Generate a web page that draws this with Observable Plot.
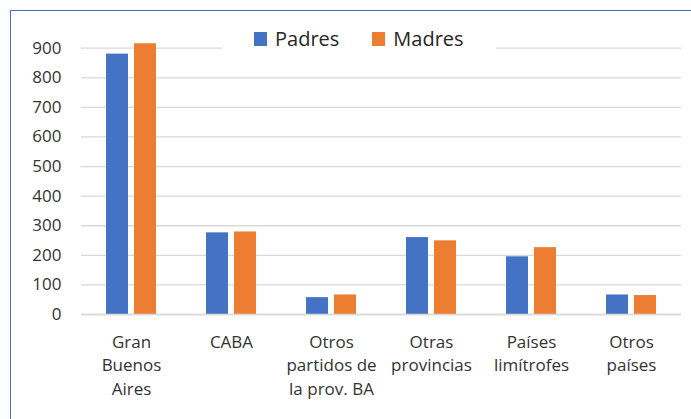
<!DOCTYPE html>
<html>
<head>
<meta charset="utf-8">
<script src="https://cdn.jsdelivr.net/npm/d3@7"></script>
<script src="https://cdn.jsdelivr.net/npm/@observablehq/plot@0.6"></script>
<style>
  html, body { margin: 0; padding: 0; background: #fff; overflow: hidden; }
  #wrap { position: relative; width: 691px; height: 419px; overflow: hidden; font-family: "Open Sans", sans-serif; }
  #frame { position: absolute; left: 10px; top: 10px; width: 900px; height: 600px; border-left: 1.5px solid #4472C4; border-top: 1.5px solid #4472C4; pointer-events: none; }
  #legend { position: absolute; left: 222px; top: 27px; width: 274px; height: 24px; background: #fff; display: flex; align-items: center; font-size: 20px; line-height: 24px; color: #262626; padding-left: 32px; box-sizing: border-box; }
  #legend .item { display: flex; align-items: center; }
  #legend .item + .item { margin-left: 33px; }
  #legend .sw { width: 13px; height: 14px; margin-right: 8px; display: inline-block; }
</style>
</head>
<body>
<div id="wrap"><div id="chart"></div><div id="legend"></div><div id="frame"></div></div>
<script>
const categories = ["Gran\nBuenos\nAires", "CABA", "Otros\npartidos de\nla prov. BA", "Otras\nprovincias", "Países\nlimítrofes", "Otros\npaíses"];
const series = ["Padres", "Madres"];
const padres = [880, 276, 57, 260, 195, 66];
const madres = [915, 279, 66, 249, 226, 64];
const yTicks = [0, 100, 200, 300, 400, 500, 600, 700, 800, 900];
const colors = ["#4472C4", "#ED7D31"];

const data = categories.flatMap((c, i) => [
  {cat: c, serie: series[0], value: padres[i]},
  {cat: c, serie: series[1], value: madres[i]}
]);

const chart = Plot.plot({
  width: 691,
  height: 419,
  marginLeft: 80,
  marginRight: 10,
  marginTop: 47.7,
  marginBottom: 105,
  style: {fontFamily: "'Open Sans', sans-serif", fontSize: "17px", color: "#333", background: "transparent"},
  fx: {domain: categories, padding: 0, label: null, axis: null},
  x: {domain: series, paddingInner: 0.2, paddingOuter: 0.845, axis: null},
  y: {domain: [0, 900], label: null},
  color: {domain: series, range: colors},
  marks: [
    Plot.gridY(yTicks, {stroke: "#d9d9d9", strokeOpacity: 1, strokeWidth: 1.3}),
    Plot.axisY(yTicks, {tickSize: 0, tickPadding: 20, label: null, fontSize: 17, fill: "#333"}),
    Plot.barY(data, {fx: "cat", x: "serie", y: "value", fill: "serie"}),
    Plot.ruleY([0], {stroke: "#d9d9d9", strokeWidth: 1.3}),
    Plot.axisFx({anchor: "bottom", tickSize: 0, tickPadding: 16, lineHeight: 1.41, label: null, fontSize: 17, fill: "#333"})
  ]
});
document.getElementById("chart").appendChild(chart);

const legend = document.getElementById("legend");
series.forEach((s, i) => {
  const item = document.createElement("span");
  item.className = "item";
  const sw = document.createElement("span");
  sw.className = "sw";
  sw.style.background = colors[i];
  item.appendChild(sw);
  item.appendChild(document.createTextNode(s));
  legend.appendChild(item);
});
</script>
</body>
</html>
